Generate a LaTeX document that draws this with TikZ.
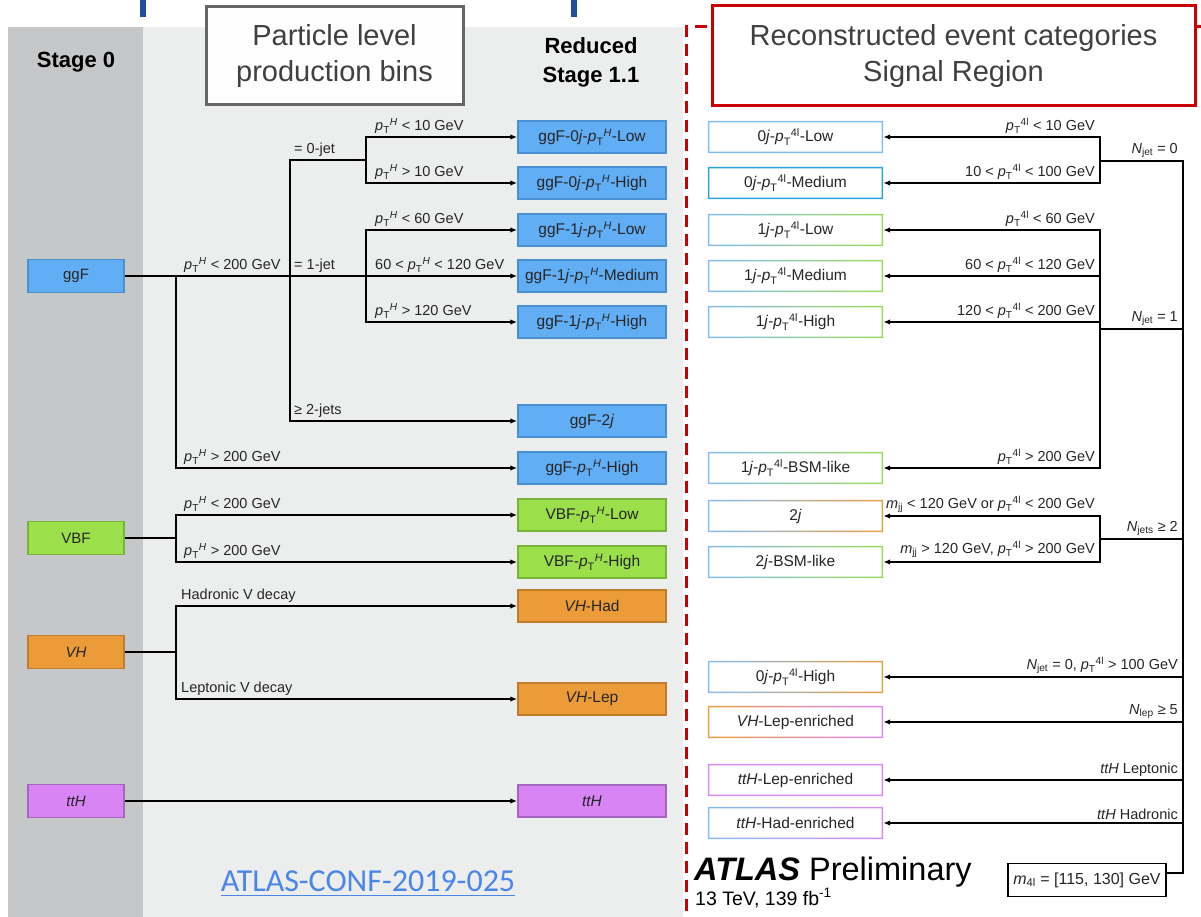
\documentclass[tikz,border=0pt]{standalone}
\usepackage{amsmath}
\usepackage{fontspec}
\setmainfont{Liberation Sans}
\newfontfamily\linkfont{Carlito}
\usetikzlibrary{arrows.meta}

\definecolor{bandDark}{HTML}{C6C7C9}
\definecolor{bandLight}{HTML}{ECEDED}
\definecolor{atlasRed}{HTML}{CC0000}
\definecolor{markBlue}{HTML}{1F4E9C}
\definecolor{titleGray}{HTML}{666666}
\definecolor{linkBlue}{HTML}{4A86E8}
\definecolor{ggfFill}{HTML}{62AEF5}
\definecolor{ggfLine}{HTML}{4A8FD0}
\definecolor{vbfFill}{HTML}{9BE04B}
\definecolor{vbfLine}{HTML}{78B33A}
\definecolor{vhFill}{HTML}{EB9C38}
\definecolor{vhLine}{HTML}{BF7D2C}
\definecolor{tthFill}{HTML}{D884F5}
\definecolor{tthLine}{HTML}{A565BF}
\definecolor{catBlue}{HTML}{84BDF2}
\definecolor{catCyan}{HTML}{2AA4DC}
\definecolor{catGreen}{HTML}{9BDB5A}
\definecolor{catOrange}{HTML}{E8A040}
\definecolor{catViolet}{HTML}{DA8AF5}

\newcommand{\pTH}{$\textit{p}_{\text{T}}{}^{\textit{H}}$}
\newcommand{\pTfl}{$\textit{p}_{\text{T}}{}^{\text{4l}}$}
% frame of a category box, shaded from left to right
\newcommand{\catframe}[3]{%
  \shade[left color=#2, right color=#3, even odd rule]
    (#1.north west) rectangle (#1.south east)
    ([shift={(1.6pt,-1.6pt)}]#1.north west) rectangle ([shift={(-1.6pt,1.6pt)}]#1.south east);}

\begin{document}
\begin{tikzpicture}[x=1pt, y=-1pt,
  stagebox/.style={draw, line width=1.5pt, minimum width=96pt, minimum height=33pt,
    inner sep=0pt, text=black!85, font=\fontsize{15}{17}\selectfont},
  binbox/.style={draw, line width=1.5pt, minimum width=148pt, minimum height=32pt,
    inner sep=0pt, text=black!85, font=\fontsize{15.5}{17}\selectfont},
  catbox/.style={fill=white, minimum width=175pt, minimum height=32pt, inner sep=0pt,
    text=black!85, font=\fontsize{15.5}{18}\selectfont},
  cutl/.style={anchor=south west, inner sep=1pt, text=black!85, font=\fontsize{14.5}{16}\selectfont},
  cutr/.style={anchor=south east, inner sep=1pt, text=black!85, font=\fontsize{14.5}{16}\selectfont},
  wire/.style={line width=1.4pt},
  arr/.style={wire, -{Latex[length=7pt,width=5.5pt]}}]
  \useasboundingbox (0,0) rectangle (1201,917);

  % Hintergrund
  \fill[bandDark] (8,27) rectangle (143,917);
  \fill[bandLight] (143,27) rectangle (683,917);
  \fill[markBlue] (140,0) rectangle (146,17);
  \fill[markBlue] (571,0) rectangle (577,17);
  \draw[atlasRed, line width=3pt, dash pattern=on 12pt off 7pt] (1201,27) -- (686,27) -- (686,917);

  % Titel
  \node[draw=titleGray, line width=3pt, fill=white!96!bandLight, minimum width=257pt, minimum height=98pt,
    align=center, text=black!75, font=\fontsize{29}{36}\selectfont] (ptitle) at (334.5,56)
    {Particle level\\production bins};
  \node[draw=atlasRed, line width=3pt, fill=white, minimum width=483pt, minimum height=100pt,
    align=center, text=black!75, font=\fontsize{29}{36}\selectfont] (rtitle) at (953.5,56)
    {Reconstructed event categories\\Signal Region};
  \node[font=\bfseries\fontsize{22}{24}\selectfont] (stage0) at (76,62) {Stage 0};
  \node[align=center, font=\bfseries\fontsize{22}{29}\selectfont] (stage11) at (591,62) {Reduced\\Stage 1.1};

  % Stage 0
  \node[stagebox, fill=ggfFill, draw=ggfLine] (ggF) at (76,276) {ggF};
  \node[stagebox, fill=vbfFill, draw=vbfLine] (VBF) at (76,538) {VBF};
  \node[stagebox, fill=vhFill, draw=vhLine] (VH) at (76,652) {\textit{VH}};
  \node[stagebox, fill=tthFill, draw=tthLine] (ttH) at (76,801) {\textit{ttH}};

  % Reduced Stage 1.1
  \node[binbox, fill=ggfFill, draw=ggfLine] (g0jLow) at (592,137) {ggF-0\textit{j}-\pTH-Low};
  \node[binbox, fill=ggfFill, draw=ggfLine] (g0jHigh) at (592,183) {ggF-0\textit{j}-\pTH-High};
  \node[binbox, fill=ggfFill, draw=ggfLine] (g1jLow) at (592,230) {ggF-1\textit{j}-\pTH-Low};
  \node[binbox, fill=ggfFill, draw=ggfLine] (g1jMed) at (592,276) {ggF-1\textit{j}-\pTH-Medium};
  \node[binbox, fill=ggfFill, draw=ggfLine] (g1jHigh) at (592,322) {ggF-1\textit{j}-\pTH-High};
  \node[binbox, fill=ggfFill, draw=ggfLine] (g2j) at (592,421) {ggF-2\textit{j}};
  \node[binbox, fill=ggfFill, draw=ggfLine] (gHigh) at (592,468) {ggF-\pTH-High};
  \node[binbox, fill=vbfFill, draw=vbfLine] (vbfLow) at (592,515) {VBF-\pTH-Low};
  \node[binbox, fill=vbfFill, draw=vbfLine] (vbfHigh) at (592,562) {VBF-\pTH-High};
  \node[binbox, fill=vhFill, draw=vhLine] (vhHad) at (592,606) {\textit{VH}-Had};
  \node[binbox, fill=vhFill, draw=vhLine] (vhLep) at (592,699) {\textit{VH}-Lep};
  \node[binbox, fill=tthFill, draw=tthLine] (tthBin) at (592,801) {\textit{ttH}};

  % Verzweigungen links
  \coordinate (lj200) at (176,276);
  \coordinate (ljjet) at (290,276);
  \coordinate (lj0) at (366,160);
  \coordinate (lj1) at (366,276);
  \coordinate (ljvbf) at (176,538);
  \coordinate (ljvh) at (176,652);
  \draw[arr] (ggF.east) -- (g1jMed.west);
  \draw[arr] (lj200) |- (gHigh.west);
  \draw[wire] (ljjet) |- (lj0);
  \draw[arr] (lj0) |- (g0jLow.west);
  \draw[arr] (lj0) |- (g0jHigh.west);
  \draw[arr] (lj1) |- (g1jLow.west);
  \draw[arr] (lj1) |- (g1jHigh.west);
  \draw[arr] (ljjet) |- (g2j.west);
  \draw[wire] (VBF.east) -- (ljvbf);
  \draw[arr] (ljvbf) |- (vbfLow.west);
  \draw[arr] (ljvbf) |- (vbfHigh.west);
  \draw[wire] (VH.east) -- (ljvh);
  \draw[arr] (ljvh) |- (vhHad.west);
  \draw[arr] (ljvh) |- (vhLep.west);
  \draw[arr] (ttH.east) -- (tthBin.west);

  \node[cutl] at (374,135) {\pTH{} < 10 GeV};
  \node[cutl] at (293,158) {= 0-jet};
  \node[cutl] at (374,181) {\pTH{} > 10 GeV};
  \node[cutl] at (374,228) {\pTH{} < 60 GeV};
  \node[cutl] at (183,274) {\pTH{} < 200 GeV};
  \node[cutl] at (293,274) {= 1-jet};
  \node[cutl] at (374,274) {60 < \pTH{} < 120 GeV};
  \node[cutl] at (374,320) {\pTH{} > 120 GeV};
  \node[cutl] at (293,419) {≥ 2-jets};
  \node[cutl] at (183,466) {\pTH{} > 200 GeV};
  \node[cutl] at (183,513) {\pTH{} < 200 GeV};
  \node[cutl] at (183,560) {\pTH{} > 200 GeV};
  \node[cutl] at (180,604) {Hadronic V decay};
  \node[cutl] at (180,697) {Leptonic V decay};

  \node[text=linkBlue, font=\linkfont\fontsize{32}{36}\selectfont] (conf) at (368,884)
    {\underline{ATLAS-CONF-2019-025}};

  % Kategorien rechts
  \node[catbox] (c0jLow) at (795.5,137) {0\textit{j}-\pTfl-Low};
  \node[catbox] (c0jMed) at (795.5,183) {0\textit{j}-\pTfl-Medium};
  \node[catbox] (c1jLow) at (795.5,230) {1\textit{j}-\pTfl-Low};
  \node[catbox] (c1jMed) at (795.5,276) {1\textit{j}-\pTfl-Medium};
  \node[catbox] (c1jHigh) at (795.5,322) {1\textit{j}-\pTfl-High};
  \node[catbox] (c1jBSM) at (795.5,468) {1\textit{j}-\pTfl-BSM-like};
  \node[catbox] (c2j) at (795.5,516) {2\textit{j}};
  \node[catbox] (c2jBSM) at (795.5,562) {2\textit{j}-BSM-like};
  \node[catbox] (c0jHigh) at (795.5,677) {0\textit{j}-\pTfl-High};
  \node[catbox] (cVHLep) at (795.5,722) {\textit{VH}-Lep-enriched};
  \node[catbox] (cttHLep) at (795.5,780) {\textit{ttH}-Lep-enriched};
  \node[catbox] (cttHHad) at (795.5,823) {\textit{ttH}-Had-enriched};
  \catframe{c0jLow}{catBlue}{catBlue}
  \catframe{c0jMed}{catCyan}{catCyan}
  \catframe{c1jLow}{catBlue}{catGreen}
  \catframe{c1jMed}{catBlue}{catGreen}
  \catframe{c1jHigh}{catBlue}{catGreen}
  \catframe{c1jBSM}{catBlue}{catGreen}
  \shade[left color=catBlue, middle color=catGreen, right color=catOrange, even odd rule]
    (c2j.north west) rectangle (c2j.south east)
    ([shift={(1.6pt,-1.6pt)}]c2j.north west) rectangle ([shift={(-1.6pt,1.6pt)}]c2j.south east);
  \catframe{c2jBSM}{catBlue}{catGreen}
  \catframe{c0jHigh}{catBlue}{catOrange}
  \catframe{cVHLep}{catOrange}{catViolet}
  \catframe{cttHLep}{catViolet}{catViolet}
  \catframe{cttHHad}{catBlue}{catViolet}

  \node[draw, line width=1.5pt, minimum width=158pt, minimum height=33pt, inner sep=0pt,
    text=black!85, font=\fontsize{16}{18}\selectfont] (m4l) at (1087,880)
    {$\textit{m}_{\text{4l}}$ = [115, 130] GeV};

  % Verzweigungen rechts
  \coordinate (rtop) at (1183,161);
  \coordinate (rj0) at (1100,161);
  \coordinate (rj1) at (1100,329);
  \coordinate (rj2) at (1100,539);
  \draw[wire] ([yshift=7pt]m4l.east) -| (rtop) -- (rj0);
  \draw[wire] (rj1 -| rtop) -- (rj1);
  \draw[wire] (rj2 -| rtop) -- (rj2);
  \draw[arr] (rj0) |- (c0jLow.east);
  \draw[arr] (rj0) |- (c0jMed.east);
  \draw[arr] (rj1) |- (c1jLow.east);
  \draw[arr] (rj1) |- (c1jMed.east);
  \draw[arr] (rj1) |- (c1jHigh.east);
  \draw[arr] (rj1) |- (c1jBSM.east);
  \draw[arr] (rj2) |- (c2j.east);
  \draw[arr] (rj2) |- (c2jBSM.east);
  \draw[arr] (c0jHigh.east -| rtop) -- (c0jHigh.east);
  \draw[arr] (cVHLep.east -| rtop) -- (cVHLep.east);
  \draw[arr] (cttHLep.east -| rtop) -- (cttHLep.east);
  \draw[arr] (cttHHad.east -| rtop) -- (cttHHad.east);

  \node[cutr] at (1096,135) {\pTfl{} < 10 GeV};
  \node[cutr] at (1096,181) {10 < \pTfl{} < 100 GeV};
  \node[cutr] at (1179,159) {$\textit{N}_{\text{jet}}$ = 0};
  \node[cutr] at (1096,228) {\pTfl{} < 60 GeV};
  \node[cutr] at (1096,274) {60 < \pTfl{} < 120 GeV};
  \node[cutr] at (1096,320) {120 < \pTfl{} < 200 GeV};
  \node[cutr] at (1179,327) {$\textit{N}_{\text{jet}}$ = 1};
  \node[cutr] at (1096,466) {\pTfl{} > 200 GeV};
  \node[cutr] at (1096,514) {$\textit{m}_{\text{jj}}$ < 120 GeV or \pTfl{} < 200 GeV};
  \node[cutr] at (1096,559) {$\textit{m}_{\text{jj}}$ > 120 GeV, \pTfl{} > 200 GeV};
  \node[cutr] at (1179,537) {$\textit{N}_{\text{jets}}$ ≥ 2};
  \node[cutr] at (1179,675) {$\textit{N}_{\text{jet}}$ = 0, \pTfl{} > 100 GeV};
  \node[cutr] at (1179,720) {$\textit{N}_{\text{lep}}$ ≥ 5};
  \node[cutr] at (1179,778) {\textit{ttH} Leptonic};
  \node[cutr] at (1179,821) {\textit{ttH} Hadronic};

  % ATLAS
  \node[anchor=base west, inner sep=0pt, font=\fontsize{32.5}{36}\selectfont] (atlas) at (694,880)
    {\textbf{\textit{ATLAS}} Preliminary};
  \node[anchor=base west, inner sep=0pt, font=\fontsize{19.5}{22}\selectfont] (lumi) at (695,905)
    {13 TeV, 139 fb\textsuperscript{-1}};
\end{tikzpicture}
\end{document}
